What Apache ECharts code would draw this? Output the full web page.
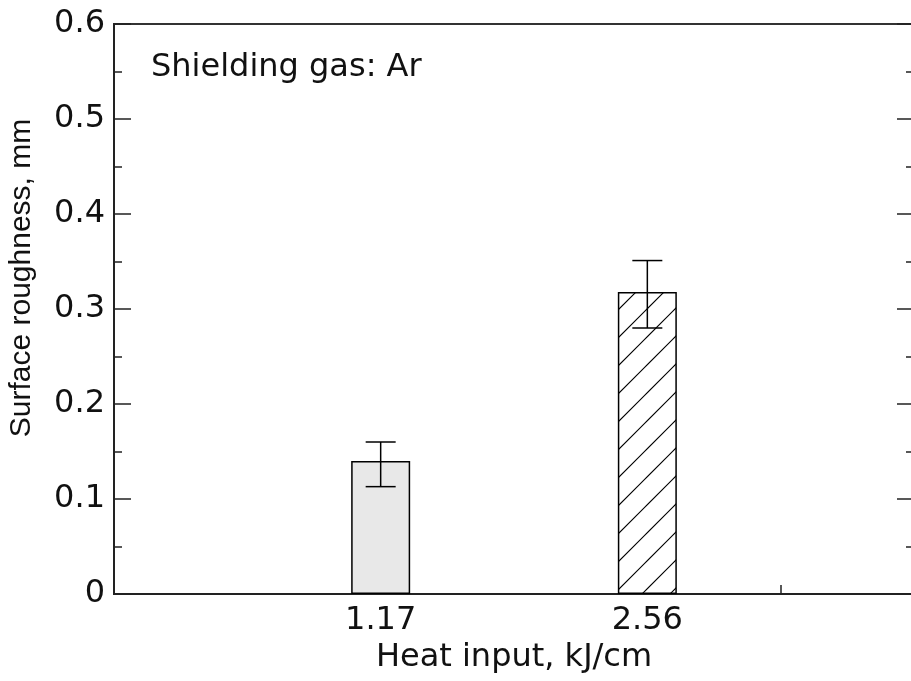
<!DOCTYPE html>
<html>
<head>
<meta charset="utf-8">
<title>Surface roughness vs heat input</title>
<script src="https://cdn.jsdelivr.net/npm/echarts@6/dist/echarts.min.js"></script>
<style>
  html, body { margin: 0; padding: 0; background: #fff; }
  #chart { width: 911px; height: 681px; }
</style>
</head>
<body>
<div id="chart"></div>
<script>
// Heat input levels (category labels) and their slot on the x scale
const heatInput = ['1.17', '2.56'];
const slotPos = [1, 2];
// Mean surface roughness (mm) and error-bar limits
const roughness = [0.14, 0.318];
const errLow = [0.113, 0.28];
const errHigh = [0.16, 0.351];
// Y axis range
const yMin = 0;
const yMax = 0.6;
const yStep = 0.1;
// Extra tick on the bottom axis after the second group
const xExtraTicks = [2.5];

const FONT = '"DejaVu Sans", Verdana, sans-serif';
const FONT_Y = '"Liberation Sans", Arial, Helvetica, sans-serif';
const INK = '#111';

// Diagonal hatch tile for the second bar
function hatchTile() {
  const s = 28;
  const c = document.createElement('canvas');
  c.width = s; c.height = s;
  const g = c.getContext('2d');
  g.strokeStyle = '#000';
  g.lineWidth = 1.2;
  g.beginPath();
  g.moveTo(-2, 6); g.lineTo(6, -2);
  g.moveTo(2, 30); g.lineTo(30, 2);
  g.stroke();
  return c;
}

const barFills = [
  { color: '#e8e8e8' },
  { color: { image: hatchTile(), repeat: 'repeat' } }
];

const barData = roughness.map((v, i) => ({
  value: [slotPos[i], v],
  itemStyle: Object.assign({ borderColor: '#000', borderWidth: 1.5 }, barFills[i])
}));

const errData = roughness.map((v, i) => [slotPos[i], errLow[i], errHigh[i]]);

const chart = echarts.init(document.getElementById('chart'), null, { renderer: 'canvas' });

chart.setOption({
  animation: false,
  backgroundColor: '#fff',
  grid: {
    left: 114, top: 24, right: -3, bottom: 87,
    outerBoundsMode: 'none',
    containLabel: false,
    show: true, borderColor: '#333', borderWidth: 2, backgroundColor: 'transparent'
  },
  xAxis: {
    type: 'value',
    min: 0, max: 3,
    splitLine: { show: false },
    axisLine: { show: true, onZero: false, lineStyle: { color: '#222', width: 2 } },
    axisTick: {
      show: true, inside: true, length: 9,
      customValues: xExtraTicks,
      lineStyle: { color: '#222', width: 1.5 }
    },
    axisLabel: {
      customValues: slotPos,
      formatter: v => heatInput[slotPos.indexOf(v)] || '',
      color: INK, fontFamily: FONT, fontSize: 32, margin: 11
    },
    name: 'Heat input, kJ/cm',
    nameLocation: 'middle',
    nameGap: 48,
    nameTextStyle: { color: INK, fontFamily: FONT, fontSize: 32 }
  },
  yAxis: [
    {
      type: 'value',
      min: yMin, max: yMax, interval: yStep,
      splitLine: { show: false },
      axisLine: { show: true, lineStyle: { color: '#222', width: 2 } },
      axisTick: { show: true, inside: true, length: 17, lineStyle: { color: '#222', width: 1.5 } },
      minorTick: { show: true, splitNumber: 2, length: 8, lineStyle: { color: '#222', width: 1.5 } },
      axisLabel: {
        formatter: v => (v === 0 ? '0' : v.toFixed(1)),
        color: INK, fontFamily: FONT, fontSize: 32, margin: 9
      }
    },
    {
      type: 'value', position: 'right',
      min: yMin, max: yMax, interval: yStep,
      splitLine: { show: false },
      axisLine: { show: true, lineStyle: { color: '#222', width: 2 } },
      axisTick: { show: true, inside: true, length: 17, lineStyle: { color: '#222', width: 1.5 } },
      minorTick: { show: true, splitNumber: 2, length: 8, lineStyle: { color: '#222', width: 1.5 } },
      axisLabel: { show: false }
    }
  ],
  graphic: [
    {
      type: 'text', x: 22, y: 278, rotation: Math.PI / 2,
      style: {
        text: 'Surface roughness, mm', fill: INK,
        font: '30px ' + FONT_Y, align: 'center', verticalAlign: 'middle'
      }
    },
    {
      type: 'text', x: 151, y: 68,
      style: {
        text: 'Shielding gas: Ar', fill: INK,
        font: '32px ' + FONT, align: 'left', verticalAlign: 'middle'
      }
    }
  ],
  series: [
    {
      type: 'bar',
      barWidth: 59,
      data: barData,
      z: 2
    },
    {
      type: 'custom',
      z: 3,
      data: errData,
      renderItem: function (params, api) {
        const x = api.value(0);
        const lo = api.coord([x, api.value(1)]);
        const hi = api.coord([x, api.value(2)]);
        const half = 15;
        const style = { stroke: '#000', lineWidth: 1.5 };
        return {
          type: 'group',
          children: [
            { type: 'line', shape: { x1: lo[0], y1: lo[1], x2: hi[0], y2: hi[1] }, style },
            { type: 'line', shape: { x1: hi[0] - half, y1: hi[1], x2: hi[0] + half, y2: hi[1] }, style },
            { type: 'line', shape: { x1: lo[0] - half, y1: lo[1], x2: lo[0] + half, y2: lo[1] }, style }
          ]
        };
      }
    }
  ]
});
</script>
</body>
</html>
